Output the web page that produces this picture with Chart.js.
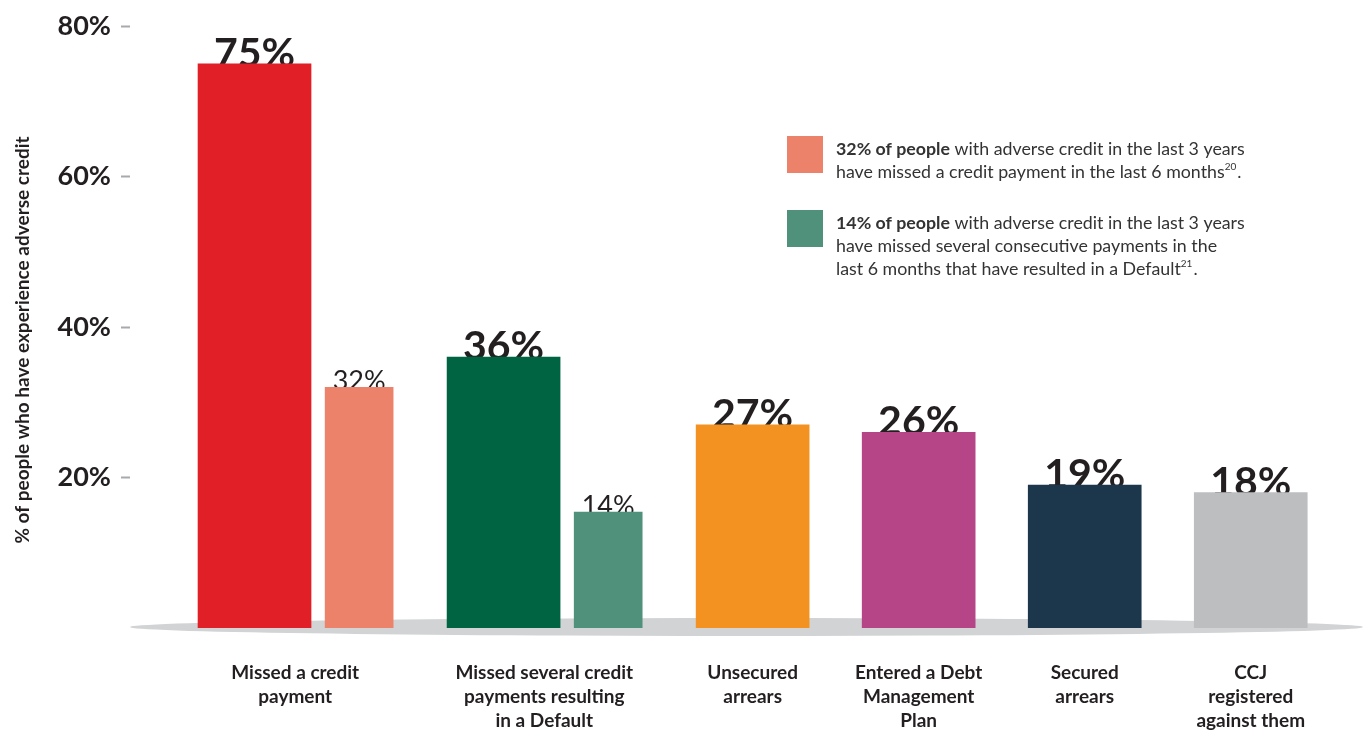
<!DOCTYPE html>
<html>
<head>
<meta charset="utf-8">
<script src="https://cdn.jsdelivr.net/npm/chart.js@4.4.0/dist/chart.umd.min.js"></script>
<style>
  html, body { margin: 0; padding: 0; background: #fff; }
  #wrap { width: 1363px; height: 733px; }
</style>
</head>
<body>
<div id="wrap"><canvas id="BarChart"></canvas></div>
<script>
// categories (multi-line tick labels) and where each group sits on the index axis
const categories = [
    ["Missed a credit", "payment"],
    ["Missed several credit", "payments resulting", "in a Default"],
    ["Unsecured", "arrears"],
    ["Entered a Debt", "Management", "Plan"],
    ["Secured", "arrears"],
    ["CCJ", "registered", "against them"]
];
const labelPos = [0.245, 1.745, 3, 4, 5, 6];

// main bars (all people with adverse credit)
const mainPos = [0, 1.5, 3, 4, 5, 6];
const mainValues = [75, 36, 27, 26, 19, 18];
const mainText = ["75%", "36%", "27%", "26%", "19%", "18%"];
const mainColors = ["#e01f26", "#006341", "#f39220", "#b54586", "#1c364b", "#bcbec0"];

// secondary bars (last 6 months)
const subPos = [0.63, 2.13];
const subValues = [32, 15.4];
const subText = ["32%", "14%"];
const subColors = ["#eb8269", "#4f917a"];

const yTicks = [20, 40, 60, 80];
const yTitle = "% of people who have experience adverse credit";

const textColor = "#231f20";
const font = "Lato, 'Open Sans', sans-serif";

// grey floor under the bars, then the value labels (bars are drawn over them)
const floorAndLabels = {
    id: "floorAndLabels",
    beforeDatasetsDraw(chart) {
        const ctx = chart.ctx, area = chart.chartArea;
        const y0 = chart.scales.y.getPixelForValue(0);
        ctx.save();
        ctx.fillStyle = "#d1d3d4";
        ctx.beginPath();
        ctx.ellipse((area.left + chart.width) / 2, y0 - 1, (chart.width - area.left) / 2, 9, 0, 0, Math.PI * 2);
        ctx.fill();

        ctx.fillStyle = textColor;
        ctx.textAlign = "center";
        ctx.textBaseline = "alphabetic";
        const m = chart.getDatasetMeta(0);
        ctx.font = "bold 41px " + font;
        m.data.forEach((bar, i) => {
            ctx.fillText(mainText[i], bar.x, bar.y + 3);
        });
        const s = chart.getDatasetMeta(1);
        ctx.font = "normal 27px " + font;
        s.data.forEach((bar, i) => {
            ctx.fillText(subText[i], bar.x, bar.y + 3);
        });
        ctx.restore();
    }
};

// legend-like notes at the top right, plus the rotated y title
const notes = {
    id: "notes",
    afterDraw(chart) {
        const ctx = chart.ctx;
        const size = "17.8px ";
        const blocks = [
            { color: subColors[0], y: 136, bold: "32% of people",
              lines: [" with adverse credit in the last 3 years", "have missed a credit payment in the last 6 months"], sup: "20" },
            { color: subColors[1], y: 210, bold: "14% of people",
              lines: [" with adverse credit in the last 3 years", "have missed several consecutive payments in the", "last 6 months that have resulted in a Default"], sup: "21" }
        ];
        ctx.save();
        ctx.textBaseline = "alphabetic";
        ctx.textAlign = "left";
        blocks.forEach(b => {
            ctx.fillStyle = b.color;
            ctx.fillRect(787, b.y, 36, 37);
            ctx.fillStyle = "#333";
            let x = 836, y = b.y + 19;
            ctx.font = "bold " + size + font;
            ctx.fillText(b.bold, x, y);
            let w = ctx.measureText(b.bold).width;
            ctx.font = "normal " + size + font;
            ctx.fillText(b.lines[0], x + w, y);
            for (let i = 1; i < b.lines.length; i++) {
                y += 23;
                ctx.font = "normal " + size + font;
                ctx.fillText(b.lines[i], x, y);
                if (i === b.lines.length - 1) {
                    let lw = ctx.measureText(b.lines[i]).width;
                    ctx.font = "normal 10px " + font;
                    ctx.fillText(b.sup, x + lw, y - 8);
                    let sw = ctx.measureText(b.sup).width;
                    ctx.font = "normal " + size + font;
                    ctx.fillText(".", x + lw + sw + 1, y);
                }
            }
        });

        ctx.translate(23, 340);
        ctx.rotate(-Math.PI / 2);
        ctx.textAlign = "center";
        ctx.textBaseline = "middle";
        ctx.fillStyle = textColor;
        ctx.font = "bold 19px " + font;
        ctx.fillText(yTitle, 0, 0);
        ctx.restore();
    }
};

var config = {
    type: "bar",
    data: {
        datasets: [{
            label: "All",
            data: mainPos.map((p, i) => ({ x: p, y: mainValues[i] })),
            backgroundColor: mainColors,
            barThickness: 113,
            grouped: false
        }, {
            label: "Last 6 months",
            data: subPos.map((p, i) => ({ x: p, y: subValues[i] })),
            backgroundColor: subColors,
            barThickness: 68,
            grouped: false
        }]
    },
    options: {
        responsive: true,
        maintainAspectRatio: false,
        animation: false,
        layout: { padding: { top: 20, right: 1, left: 0, bottom: 0 } },
        plugins: {
            legend: { display: false },
            tooltip: { enabled: false }
        },
        scales: {
            x: {
                type: "linear",
                offset: false,
                min: -0.75,
                max: 6.67,
                grid: { display: false, drawTicks: false },
                border: { display: false },
                afterBuildTicks(scale) {
                    scale.ticks = labelPos.map(v => ({ value: v }));
                },
                afterFit(scale) { scale.height = 105; },
                ticks: {
                    autoSkip: false,
                    maxRotation: 0,
                    padding: 33,
                    color: textColor,
                    font: { family: font, size: 19, weight: "bold", lineHeight: 1.26 },
                    callback: function (value) {
                        const i = labelPos.indexOf(value);
                        return i >= 0 ? categories[i] : "";
                    }
                }
            },
            y: {
                min: 0,
                max: 80,
                afterBuildTicks(scale) {
                    scale.ticks = yTicks.map(v => ({ value: v }));
                },
                afterFit(scale) { scale.width = 130; },
                grid: {
                    drawOnChartArea: false,
                    drawTicks: true,
                    tickLength: 9,
                    tickWidth: 2,
                    tickColor: "#a7a9ac"
                },
                border: { display: false },
                ticks: {
                    padding: 10,
                    color: textColor,
                    font: { family: font, size: 27, weight: "bold" },
                    callback: v => v + "%"
                }
            }
        }
    },
    plugins: [floorAndLabels, notes]
};
window.myBar = new Chart(document.getElementById("BarChart"), config);
</script>
</body>
</html>
